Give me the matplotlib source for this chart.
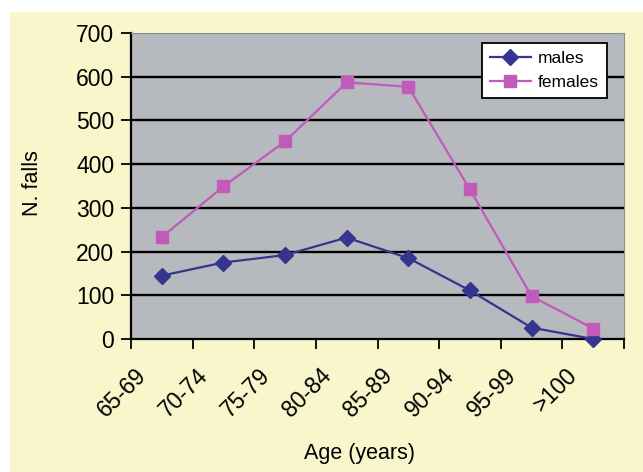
import matplotlib
matplotlib.use("Agg")
import matplotlib.pyplot as plt
import matplotlib.transforms as mtransforms
from matplotlib.patches import Rectangle
import numpy as np

plt.rcParams['font.family'] = ['Liberation Sans', 'DejaVu Sans']

age_groups = ['65-69', '70-74', '75-79', '80-84', '85-89', '90-94', '95-99', '>100']
males = [145, 175, 192, 232, 185, 111, 26, 0]
females = [233, 349, 452, 587, 577, 342, 98, 24]
y_ticks = [0, 100, 200, 300, 400, 500, 600, 700]

W, H = 643, 472
fig = plt.figure(figsize=(W / 100, H / 100), dpi=100, facecolor='white')

# pale yellow panel behind the chart
fig.patches.append(Rectangle((10 / W, 0), 1 - 10 / W, 1 - 12 / H, transform=fig.transFigure,
                             facecolor='#F9F6CC', edgecolor='none', zorder=-10))

ax = fig.add_axes([131 / W, 1 - 339 / H, (624 - 131) / W, (339 - 33) / H])
ax.set_zorder(1)
ax.set_facecolor('#B6B9BD')

x = np.arange(len(age_groups))
ax.plot(x, males, color='#35358F', lw=1.6, marker='D', ms=8, label='males', zorder=3, clip_on=False)
ax.plot(x, females, color='#C25ABA', lw=1.6, marker='s', ms=8, label='females', zorder=3, clip_on=False)

ax.set_xlim(-0.5, len(age_groups) - 0.5)
ax.set_ylim(0, 700)

# gridlines (black, below the top border)
for v in y_ticks[1:-1]:
    ax.axhline(v, color='black', lw=1.7, zorder=1)

ax.set_yticks(y_ticks)
ax.set_yticklabels([str(v) for v in y_ticks], fontsize=16.5)
ax.tick_params(axis='y', direction='out', length=7, width=1.3, pad=5)

ax.set_xticks(x)
ax.set_xticklabels(age_groups, fontsize=16.5, rotation=45, ha='right', va='center',
                   rotation_mode='anchor')
ax.set_xticks(np.arange(-0.5, len(age_groups)), minor=True)
ax.tick_params(axis='x', which='major', length=0, pad=24)
ax.tick_params(axis='x', which='minor', direction='out', length=7, width=1.3)
shift = mtransforms.ScaledTranslation(-19 / 100, 0, fig.dpi_scale_trans)
for lab in ax.get_xticklabels():
    lab.set_transform(lab.get_transform() + shift)

for s in ['left', 'bottom']:
    ax.spines[s].set_color('black')
    ax.spines[s].set_linewidth(1.6)
for s in ['top', 'right']:
    ax.spines[s].set_color('#8C8C8C')
    ax.spines[s].set_linewidth(0.8)

leg = ax.legend(loc='upper right', bbox_to_anchor=(1 - 17 / 493, 1 - 10 / 306), fontsize=12.5,
                frameon=True, fancybox=False, framealpha=1, edgecolor='black',
                handlelength=2.4, handletextpad=0.4, borderpad=0.45, labelspacing=0.5,
                borderaxespad=0)
leg.get_frame().set_linewidth(1.3)
leg.set_zorder(5)

fig.text(360 / W, 1 - 453 / H, 'Age (years)', fontsize=15.5, ha='center', va='center')
fig.text(33 / W, 1 - 183 / H, 'N. falls', fontsize=15.5, ha='center', va='center', rotation=90)

plt.savefig('out.png', dpi=100, facecolor=fig.get_facecolor())
